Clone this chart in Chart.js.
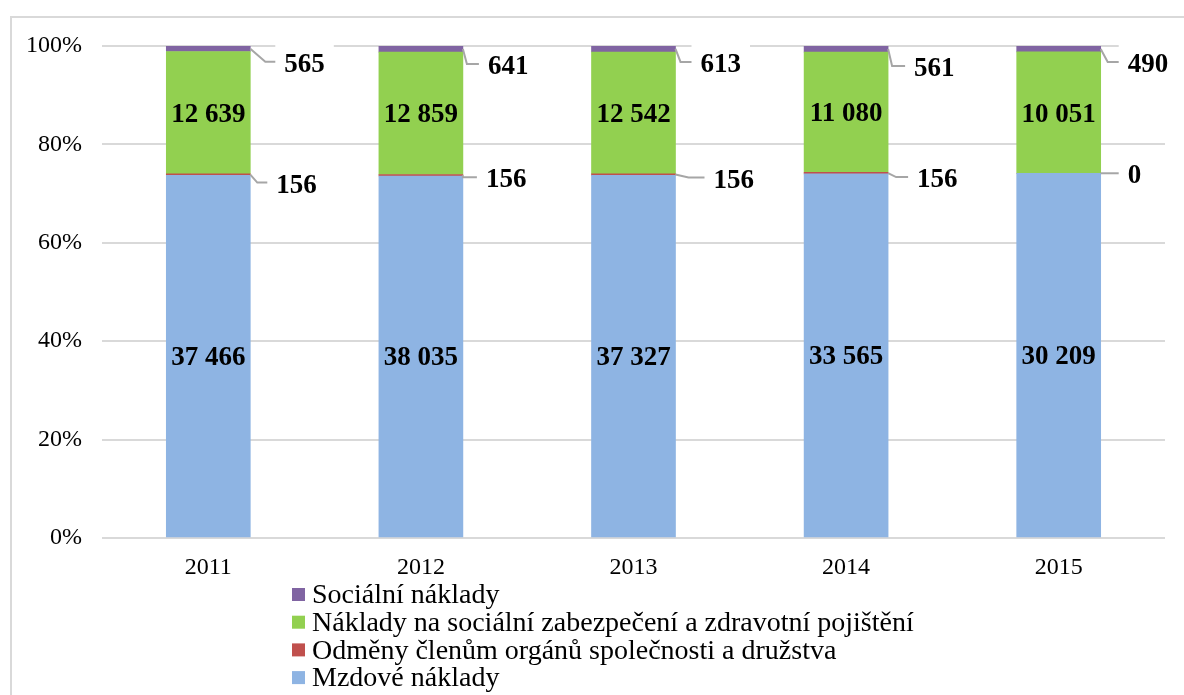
<!DOCTYPE html>
<html lang="cs">
<head>
  <meta charset="UTF-8">
  <title>Osobní náklady</title>
  <script src="https://cdn.jsdelivr.net/npm/chart.js@4.4.1/dist/chart.umd.min.js"></script>
  <style>
    body { margin: 0; background: #fff; }
    canvas { display: block; }
  </style>
</head>
<body>
  <canvas id="chart" width="1184" height="695"></canvas>
  <script>
    // data (tis. Kč)
    const years = ['2011', '2012', '2013', '2014', '2015'];
    const mzdove = [37466, 38035, 37327, 33565, 30209];
    const odmeny = [156, 156, 156, 156, 0];
    const pojisteni = [12639, 12859, 12542, 11080, 10051];
    const socialni = [565, 641, 613, 561, 490];
    const yTicks = ['0%', '20%', '40%', '60%', '80%', '100%'];

    const raw = [mzdove, odmeny, pojisteni, socialni];
    const totals = years.map((_, i) => raw.reduce((s, arr) => s + arr[i], 0));
    const pct = arr => arr.map((v, i) => v / totals[i] * 100);

    // placement of the outside labels (relative to bar right edge / segment middle)
    const outside = {
      1: { dx: [26, 23, 38, 29, 27], dy: [9, 3, 4, 5, 1], elbow: [7, 0, 13, 8, 0] },
      3: { dx: [34, 25, 25, 26, 27], dy: [14, 16, 14, 18, 14], elbow: [15, 4, 5, 4, 7] }
    };

    const serif = '"Liberation Serif", "Times New Roman", serif';
    const fmt = v => String(v).replace(/\B(?=(\d{3})+(?!\d))/g, ' ');

    const framePlugin = {
      id: 'frame',
      beforeDraw(chart) {
        const ctx = chart.ctx;
        ctx.save();
        ctx.fillStyle = '#fff';
        ctx.fillRect(0, 0, chart.width, chart.height);
        ctx.strokeStyle = '#d9d9d9';
        ctx.lineWidth = 2;
        ctx.strokeRect(11, 17, chart.width + 20, chart.height + 20);
        ctx.restore();
      }
    };

    const labelPlugin = {
      id: 'barLabels',
      afterDatasetsDraw(chart) {
        const ctx = chart.ctx;
        ctx.save();
        ctx.font = 'bold 27px ' + serif;
        ctx.textBaseline = 'middle';
        chart.data.datasets.forEach((ds, d) => {
          const meta = chart.getDatasetMeta(d);
          meta.data.forEach((bar, i) => {
            const p = bar.getProps(['x', 'y', 'base', 'width'], true);
            const mid = (p.y + p.base) / 2;
            const text = fmt(raw[d][i]);
            if (!outside[d]) {
              ctx.fillStyle = '#000';
              ctx.textAlign = 'center';
              ctx.fillText(text, p.x, mid + 2);
              return;
            }
            const o = outside[d];
            const xr = p.x + p.width / 2;
            const lx = xr + o.dx[i];
            const cy = mid + o.dy[i];
            const w = ctx.measureText(text).width;
            ctx.fillStyle = '#fff';
            ctx.fillRect(lx - 9, cy - 18, w + 18, 36);
            ctx.strokeStyle = '#a6a6a6';
            ctx.lineWidth = 2;
            ctx.beginPath();
            ctx.moveTo(xr, mid);
            ctx.lineTo(xr + o.elbow[i], cy - 1);
            ctx.lineTo(lx - 9, cy - 1);
            ctx.stroke();
            ctx.fillStyle = '#000';
            ctx.textAlign = 'left';
            ctx.fillText(text, lx, cy + 2);
          });
        });
        ctx.restore();
      }
    };

    const legendPlugin = {
      id: 'stackLegend',
      afterDraw(chart) {
        const ctx = chart.ctx;
        ctx.save();
        ctx.font = '28px ' + serif;
        ctx.textBaseline = 'middle';
        ctx.textAlign = 'left';
        const items = chart.data.datasets.slice().reverse();
        items.forEach((ds, k) => {
          const cy = 595 + k * 27.7;
          ctx.fillStyle = ds.backgroundColor;
          ctx.fillRect(292, cy - 7, 13, 13);
          ctx.fillStyle = '#000';
          ctx.fillText(ds.label, 312, cy + 1);
        });
        ctx.restore();
      }
    };

    new Chart(document.getElementById('chart'), {
      type: 'bar',
      data: {
        labels: years,
        datasets: [
          { label: 'Mzdové náklady', data: pct(mzdove), backgroundColor: '#8eb4e3' },
          { label: 'Odměny členům orgánů společnosti a družstva', data: pct(odmeny), backgroundColor: '#c0504d' },
          { label: 'Náklady na sociální zabezpečení a zdravotní pojištění', data: pct(pojisteni), backgroundColor: '#92d050' },
          { label: 'Sociální náklady', data: pct(socialni), backgroundColor: '#8064a2' }
        ]
      },
      options: {
        responsive: false,
        animation: false,
        layout: { padding: { left: 10, right: 19, top: 46, bottom: 117 } },
        datasets: { bar: { barThickness: 84 } },
        plugins: { legend: { display: false }, tooltip: { enabled: false } },
        scales: {
          x: {
            stacked: true,
            grid: { display: false },
            border: { display: false },
            ticks: { color: '#000', font: { family: serif, size: 24 }, padding: 7 },
            afterFit: s => { s.height = 40; }
          },
          y: {
            stacked: true,
            min: 0,
            max: 100,
            border: { display: false },
            grid: { color: '#d9d9d9', lineWidth: 2, drawTicks: false },
            ticks: {
              stepSize: 20,
              color: '#000',
              padding: 20,
              font: { family: serif, size: 24 },
              callback: (v, i) => yTicks[i]
            },
            afterFit: s => { s.width = 92; }
          }
        }
      },
      plugins: [framePlugin, labelPlugin, legendPlugin]
    });
  </script>
</body>
</html>
